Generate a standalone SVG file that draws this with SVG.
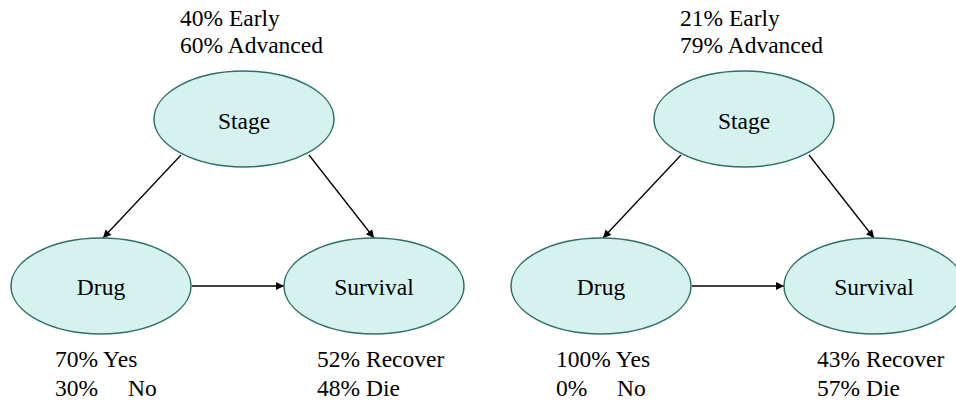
<svg xmlns="http://www.w3.org/2000/svg" width="956" height="404" viewBox="0 0 956 404">
<style>
.n{fill:#d5f2ef;stroke:#2f6e69;stroke-width:1.5}
.t{font-family:"Liberation Serif","Times New Roman",serif;font-size:23.5px;fill:#000}
.c{text-anchor:middle}
.e{stroke:#000;stroke-width:1.3;fill:none;marker-end:url(#ah)}
</style>
<defs>
<marker id="ah" viewBox="0 0 10 10" refX="10" refY="5" markerWidth="10" markerHeight="8" markerUnits="userSpaceOnUse" orient="auto">
<path d="M0,0 L10,5 L0,10 z" fill="#000"/>
</marker>
</defs>
<rect width="956" height="404" fill="#fff"/>
<g id="connectors">
<line class="e" x1="181" y1="155" x2="103" y2="238"/>
<line class="e" x1="309" y1="155" x2="374" y2="238"/>
<line class="e" x1="192" y1="286" x2="284" y2="286"/>
<line class="e" x1="681" y1="155" x2="603" y2="238"/>
<line class="e" x1="809" y1="155" x2="874" y2="238"/>
<line class="e" x1="692" y1="286" x2="784" y2="286"/>
</g>
<g id="stage1"><ellipse class="n" cx="244" cy="119" rx="90" ry="48"/><text class="t c" x="244" y="129">Stage</text></g>
<g id="drug1"><ellipse class="n" cx="101" cy="286" rx="90" ry="48"/><text class="t c" x="101" y="295">Drug</text></g>
<g id="survival1"><ellipse class="n" cx="374" cy="286" rx="90" ry="48"/><text class="t c" x="374" y="295">Survival</text></g>
<g id="stage2"><ellipse class="n" cx="744" cy="119" rx="90" ry="48"/><text class="t c" x="744" y="129">Stage</text></g>
<g id="drug2"><ellipse class="n" cx="601" cy="286" rx="90" ry="48"/><text class="t c" x="601" y="295">Drug</text></g>
<g id="survival2"><ellipse class="n" cx="874" cy="286" rx="90" ry="48"/><text class="t c" x="874" y="295">Survival</text></g>
<g id="labels">
<text class="t" x="180" y="26">40% Early</text>
<text class="t" x="180" y="53">60% Advanced</text>
<text class="t" x="55" y="367">70% Yes</text>
<text class="t" x="55" y="396">30%</text><text class="t" x="128" y="396">No</text>
<text class="t" x="317" y="367">52% Recover</text>
<text class="t" x="317" y="396">48% Die</text>
<text class="t" x="680" y="26">21% Early</text>
<text class="t" x="680" y="53">79% Advanced</text>
<text class="t" x="556" y="367">100% Yes</text>
<text class="t" x="556" y="396">0%</text><text class="t" x="617" y="396">No</text>
<text class="t" x="817" y="367">43% Recover</text>
<text class="t" x="817" y="396">57% Die</text>
</g>
</svg>
